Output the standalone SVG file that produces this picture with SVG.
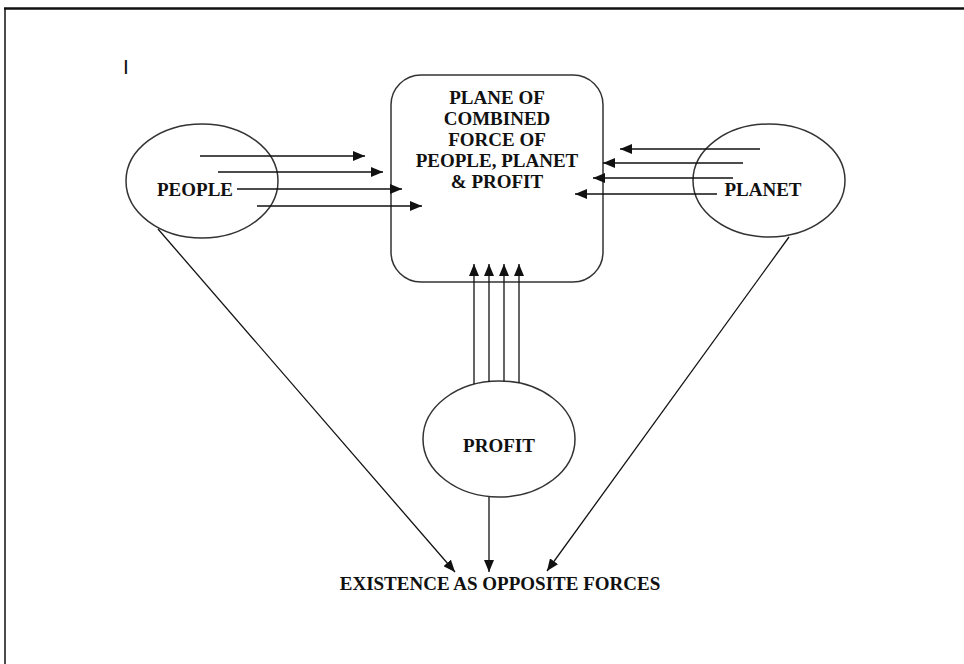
<svg xmlns="http://www.w3.org/2000/svg" width="964" height="664" viewBox="0 0 964 664">
<style>
.lbl{font-family:"Liberation Serif","Times New Roman",serif;font-weight:bold;font-size:19px;fill:#111;text-anchor:middle}
.node{fill:none;stroke:#333;stroke-width:1.5}
.c{stroke:#111;stroke-width:1.3;fill:none;marker-end:url(#ah)}
</style>
<defs>
<marker id="ah" markerUnits="userSpaceOnUse" markerWidth="12" markerHeight="10" viewBox="0 0 12 10" refX="12" refY="5" orient="auto">
<path d="M0,0 L12,5 L0,10 Z" fill="#111"/>
</marker>
</defs>
<rect width="964" height="664" fill="#fff"/>
<g id="frame">
<line x1="4" y1="8.5" x2="964" y2="8.5" stroke="#111" stroke-width="2.5"/>
<line x1="5" y1="8" x2="5" y2="664" stroke="#111" stroke-width="1.5"/>
<text x="123" y="74" style="font-family:'Liberation Sans',Arial,sans-serif;font-size:21px;fill:#111">I</text>
</g>
<g id="people">
<ellipse class="node" cx="202" cy="181" rx="76" ry="57"/>
<text class="lbl" x="195" y="196">PEOPLE</text>
</g>
<g id="plane">
<rect class="node" x="391" y="75" width="212" height="207" rx="30" ry="30"/>
<text class="lbl" x="497" y="104">PLANE OF</text>
<text class="lbl" x="497" y="125">COMBINED</text>
<text class="lbl" x="497" y="146">FORCE OF</text>
<text class="lbl" x="497" y="167">PEOPLE, PLANET</text>
<text class="lbl" x="497" y="188">&amp; PROFIT</text>
</g>
<g id="planet">
<ellipse class="node" cx="769" cy="180.5" rx="76" ry="56.5"/>
<text class="lbl" x="763" y="196">PLANET</text>
</g>
<g id="profit">
<ellipse class="node" cx="499" cy="439" rx="76" ry="58"/>
<text class="lbl" x="499" y="452">PROFIT</text>
</g>
<g id="existence">
<text class="lbl" x="500" y="590">EXISTENCE AS OPPOSITE FORCES</text>
</g>
<g id="connectors">
<line class="c" x1="200" y1="156" x2="365" y2="156"/>
<line class="c" x1="218" y1="172" x2="383" y2="172"/>
<line class="c" x1="237" y1="189" x2="402" y2="189"/>
<line class="c" x1="257" y1="206" x2="422" y2="206"/>
<line class="c" x1="760" y1="149" x2="620" y2="149"/>
<line class="c" x1="743" y1="163" x2="603" y2="163"/>
<line class="c" x1="733" y1="178" x2="593" y2="178"/>
<line class="c" x1="717" y1="194" x2="575" y2="194"/>
<line class="c" x1="474" y1="384" x2="474" y2="264"/>
<line class="c" x1="489" y1="382" x2="489" y2="264"/>
<line class="c" x1="504" y1="381" x2="504" y2="264"/>
<line class="c" x1="519" y1="383" x2="519" y2="264"/>
<line class="c" x1="489" y1="497" x2="489" y2="572"/>
<line class="c" x1="158" y1="229" x2="455" y2="572"/>
<line class="c" x1="789" y1="237" x2="547" y2="571"/>
</g>
</svg>
